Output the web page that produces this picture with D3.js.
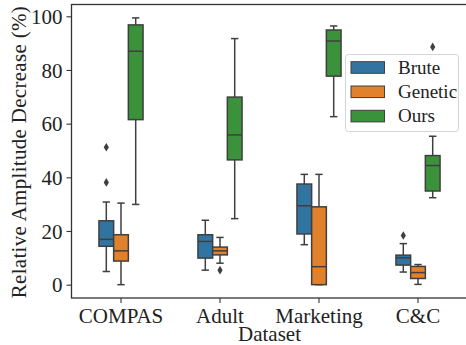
<!DOCTYPE html>
<html><head><meta charset="utf-8">
<script src="https://cdn.jsdelivr.net/npm/d3@7"></script>
<style>body{margin:0;background:#fff}svg{display:block}text{font-family:"Liberation Serif",serif;fill:#222}</style>
</head><body>
<svg id="c" width="466" height="345"></svg>
<script>
const datasets = ["COMPAS", "Adult", "Marketing", "C&C"];
const methods = ["Brute", "Genetic", "Ours"];
const colors = ["#3274a1", "#e1812c", "#3a923a"];
// rows: datasets, columns: methods
const whiskerLow = [[4.9, 0.0, 29.9], [5.4, 8.0, 24.6], [14.9, 0.0, 62.6], [4.7, 0.1, 32.4]];
const q1 = [[14.3, 8.8, 61.5], [9.9, 11.1, 46.5], [18.9, 0.0, 77.7], [7.3, 2.3, 34.9]];
const median = [[16.9, 12.6, 87.0], [16.1, 12.6, 55.8], [29.4, 6.7, 90.8], [10.0, 4.5, 44.4]];
const q3 = [[23.8, 18.6, 96.8], [18.6, 14.0, 69.9], [37.5, 29.0, 94.9], [11.0, 6.8, 48.1]];
const whiskerHigh = [[30.8, 30.4, 99.4], [24.0, 17.6, 91.7], [41.1, 41.1, 96.4], [15.3, 7.5, 55.3]];
const outliers = [[[51.2, 38.1], [], []], [[], [5.4], []], [[], [], []], [[18.3], [], [88.6]]];
const yTicks = [0, 20, 40, 60, 80, 100];

const svg = d3.select("#c");
const L = 71.5, R = 467.5, T = 4.5, B = 298;
const x0 = d3.scaleBand().domain(datasets).range([L, R]).padding(0);
const x1 = d3.scaleBand().domain(methods).range([-22.05, 22.05]).padding(0);
const y = d3.scaleLinear().domain([-4.97, 104.4]).range([B, T]);
const edge = "#3f3f3f";

const rows = [];
datasets.forEach((ds, i) => methods.forEach((m, j) => rows.push({
  ds, m, j, lo: whiskerLow[i][j], q1: q1[i][j], med: median[i][j], q3: q3[i][j], hi: whiskerHigh[i][j], fl: outliers[i][j]
})));

const g = svg.append("g");
rows.forEach(d => {
  const cx = x0(d.ds) + x0.bandwidth() / 2 + x1(d.m) + x1.bandwidth() / 2;
  const w = x1.bandwidth();
  const gg = g.append("g").attr("stroke", edge).attr("stroke-width", 1.5).attr("fill", "none");
  gg.append("line").attr("x1", cx).attr("x2", cx).attr("y1", y(d.q1)).attr("y2", y(d.lo));
  gg.append("line").attr("x1", cx).attr("x2", cx).attr("y1", y(d.q3)).attr("y2", y(d.hi));
  gg.append("line").attr("x1", cx - w / 4).attr("x2", cx + w / 4).attr("y1", y(d.lo)).attr("y2", y(d.lo));
  gg.append("line").attr("x1", cx - w / 4).attr("x2", cx + w / 4).attr("y1", y(d.hi)).attr("y2", y(d.hi));
  gg.append("rect").attr("x", cx - w / 2).attr("width", w).attr("y", y(d.q3)).attr("height", y(d.q1) - y(d.q3))
    .attr("fill", colors[d.j]);
  gg.append("line").attr("x1", cx - w / 2).attr("x2", cx + w / 2).attr("y1", y(d.med)).attr("y2", y(d.med));
  d.fl.forEach(v => {
    gg.append("path").attr("d", "M0,-4.3L2.6,0L0,4.3L-2.6,0Z").attr("transform", `translate(${cx},${y(v)})`)
      .attr("fill", edge).attr("stroke", "none");
  });
});

// axes
const xAxis = svg.append("g").attr("transform", `translate(0,${B})`)
  .call(d3.axisBottom(x0).tickSize(5).tickPadding(4));
const yAxis = svg.append("g").attr("transform", `translate(${L},0)`)
  .call(d3.axisLeft(y).tickValues(yTicks).tickSize(5).tickPadding(4));
[xAxis, yAxis].forEach(a => {
  a.selectAll("path").remove();
  a.selectAll("line").attr("stroke", "#333").attr("stroke-width", 1.1);
  a.selectAll("text").attr("font-family", "Liberation Serif").attr("font-size", 21).attr("fill", "#222");
});
xAxis.selectAll("text").attr("dy", null).attr("y", 24.5).attr("dominant-baseline", "auto");
yAxis.selectAll("text").attr("dy", "0.34em");

// spines
svg.append("rect").attr("x", L).attr("y", T).attr("width", R - L).attr("height", B - T)
  .attr("fill", "none").attr("stroke", "#333").attr("stroke-width", 1.3);

// axis labels
svg.append("text").attr("x", (L + R) / 2).attr("y", 340.5).attr("text-anchor", "middle")
  .attr("font-size", 21).text("Dataset");
svg.append("text").attr("transform", `translate(26,${(T + B) / 2 + 1}) rotate(-90)`).attr("text-anchor", "middle")
  .attr("font-size", 21).attr("textLength", 292).attr("lengthAdjust", "spacing")
  .text("Relative Amplitude Decrease (%)");

// legend
const lg = svg.append("g").attr("transform", "translate(345.5,54.5)");
lg.append("rect").attr("width", 113).attr("height", 77).attr("rx", 3)
  .attr("fill", "white").attr("fill-opacity", 0.8).attr("stroke", "#d5d5d5").attr("stroke-width", 1);
methods.forEach((m, i) => {
  const yy = 13 + i * 24.3;
  lg.append("rect").attr("x", 5.5).attr("y", yy - 5.8).attr("width", 33.5).attr("height", 11.6)
    .attr("fill", colors[i]).attr("stroke", edge).attr("stroke-width", 1);
  lg.append("text").attr("x", 52.5).attr("y", yy).attr("dy", "0.33em").attr("font-size", 19).text(m);
});
</script>
</body></html>
